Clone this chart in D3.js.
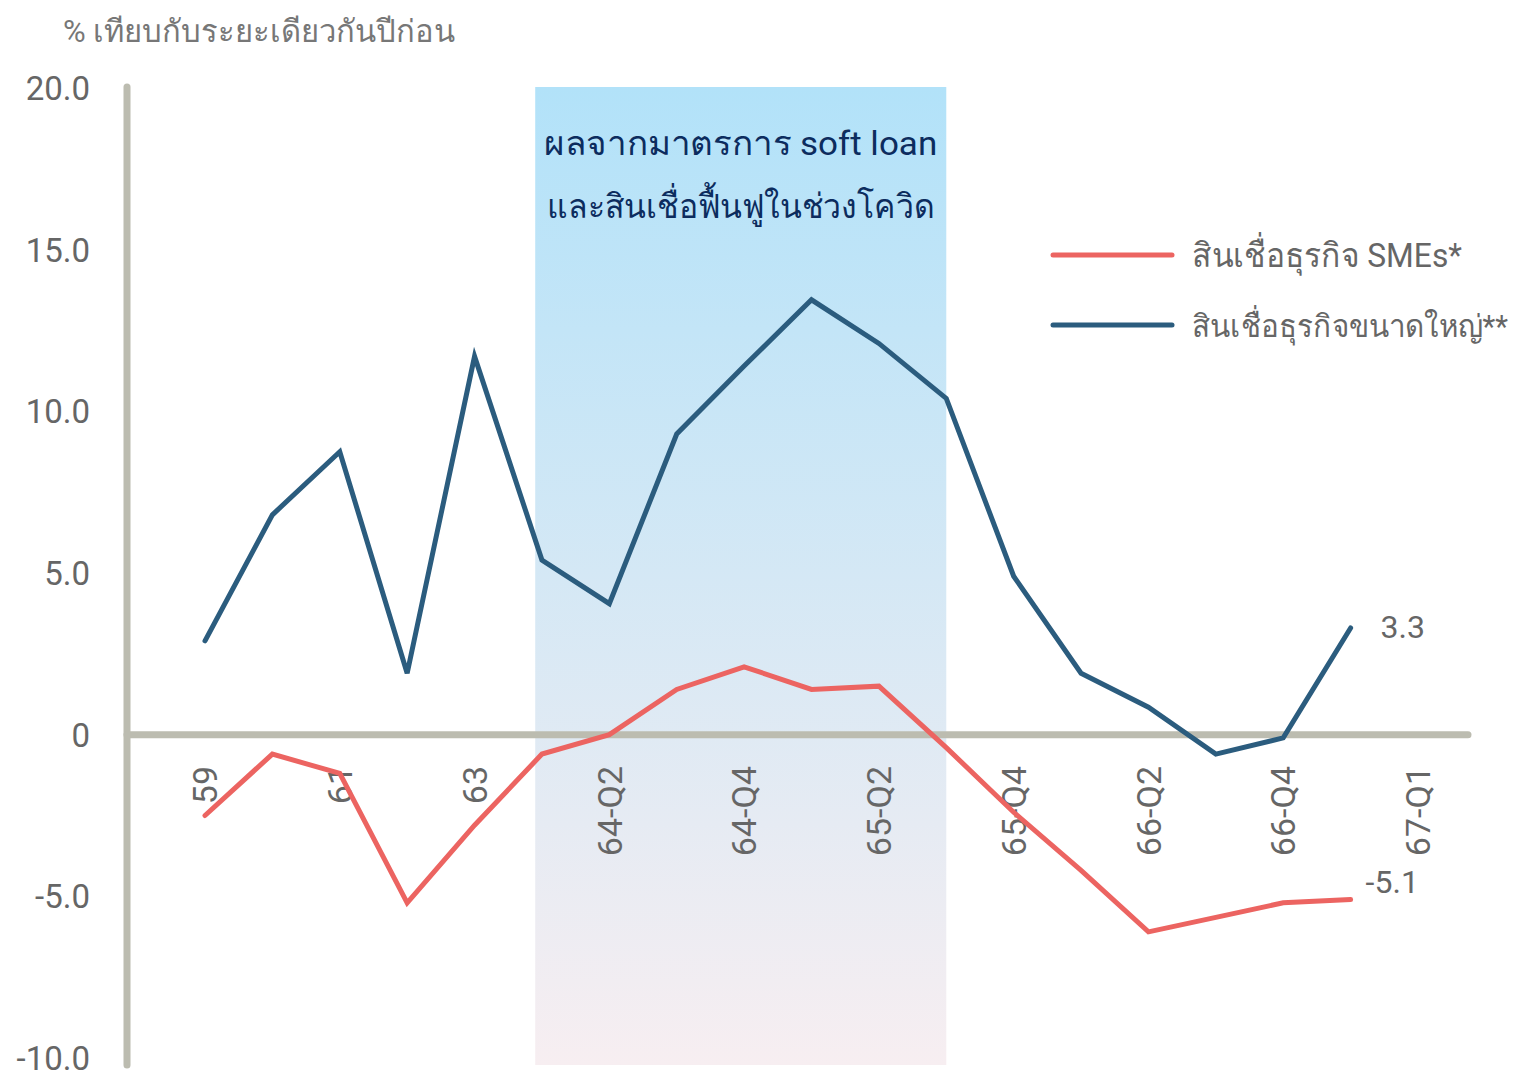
<!DOCTYPE html>
<html><head><meta charset="utf-8">
<script src="https://cdn.jsdelivr.net/npm/d3@7"></script>
<style>
html,body{margin:0;padding:0;background:#fff;}
text{font-family:Roboto,"Noto Sans","Liberation Sans",sans-serif;}
</style></head>
<body><svg id="c" width="1522" height="1079"></svg>
<script>
const slots = d3.range(19);
const tickLabels = ["59","","61","","63","","64-Q2","","64-Q4","","65-Q2","","65-Q4","","66-Q2","","66-Q4","","67-Q1"];
const yTicks = [20,15,10,5,0,-5,-10];
const yTickLabels = ["20.0","15.0","10.0","5.0","0","-5.0","-10.0"];
const smeValues = [-2.5,-0.6,-1.2,-5.2,-2.8,-0.6,0.0,1.4,2.1,1.4,1.5,-0.4,-2.4,-4.2,-6.1,-5.65,-5.2,-5.1];
const largeValues = [2.9,6.8,8.75,1.9,11.7,5.4,4.05,9.3,11.4,13.45,12.1,10.4,4.9,1.9,0.85,-0.6,-0.1,3.3];
const seriesNames = ["สินเชื่อธุรกิจ SMEs*","สินเชื่อธุรกิจขนาดใหญ่**"];
const shadeRange = [4.9, 11.0];
const shadeText = ["ผลจากมาตรการ soft loan","และสินเชื่อฟื้นฟูในช่วงโควิด"];
const yTitle = "% เทียบกับระยะเดียวกันปีก่อน";

const svg = d3.select("#c");
const x = d3.scaleLinear().domain([0,18]).range([205,1418]);
const y = d3.scaleLinear().domain([-10,20]).range([1058,88]);
const red = "#ec6461", blue = "#2b5c7e", axisCol = "#bcbcb0", txt = "#666";

const defs = svg.append("defs");
const g = defs.append("linearGradient").attr("id","sh").attr("x1",0).attr("y1",0).attr("x2",0).attr("y2",1);
g.append("stop").attr("offset","0%").attr("stop-color","#b2e2f9");
g.append("stop").attr("offset","100%").attr("stop-color","#f7eef1");

svg.append("rect").attr("x",x(shadeRange[0])).attr("y",87)
  .attr("width",x(shadeRange[1])-x(shadeRange[0])).attr("height",1065-87).attr("fill","url(#sh)");

const boxW = [393,387];
shadeText.forEach((t,i)=>{
  svg.append("text").attr("x",(x(shadeRange[0])+x(shadeRange[1]))/2).attr("y",155+i*63)
    .attr("text-anchor","middle").attr("font-size",34).attr("fill","#0c2c5e")
    .attr("textLength",boxW[i]).attr("lengthAdjust","spacingAndGlyphs").text(t);
});

// y axis line
svg.append("line").attr("x1",127).attr("x2",127).attr("y1",87).attr("y2",1065)
  .attr("stroke",axisCol).attr("stroke-width",7).attr("stroke-linecap","round");
// zero line
svg.append("line").attr("x1",127).attr("x2",1468).attr("y1",y(0)).attr("y2",y(0))
  .attr("stroke",axisCol).attr("stroke-width",7).attr("stroke-linecap","round");

// y tick labels
svg.selectAll(".yt").data(yTicks).enter().append("text")
  .attr("x",90).attr("y",d=>y(d)).attr("dy","0.36em").attr("text-anchor","end")
  .attr("font-size",33).attr("fill",txt).text((d,i)=>yTickLabels[i]);

// x tick labels
svg.selectAll(".xt").data(slots.filter(i=>tickLabels[i])).enter().append("text")
  .attr("transform",d=>`translate(${x(d)},766) rotate(-90)`)
  .attr("dy","0.36em").attr("text-anchor","end")
  .attr("font-size",34).attr("fill",txt).text(d=>tickLabels[d]);

const line = d3.line().x((d,i)=>x(i)).y(d=>y(d));
svg.append("path").datum(largeValues).attr("d",line).attr("fill","none")
  .attr("stroke",blue).attr("stroke-width",5).attr("stroke-linecap","round").attr("stroke-linejoin","miter");
svg.append("path").datum(smeValues).attr("d",line).attr("fill","none")
  .attr("stroke",red).attr("stroke-width",5).attr("stroke-linecap","round").attr("stroke-linejoin","miter");

// end labels
const last = largeValues.length-1;
svg.append("text").attr("x",x(last)+30).attr("y",y(largeValues[last])+10)
  .attr("font-size",32).attr("fill",txt).text(largeValues[last].toFixed(1));
svg.append("text").attr("x",x(last)+15).attr("y",y(smeValues[last])-7)
  .attr("font-size",32).attr("fill",txt).text(smeValues[last].toFixed(1));

// legend
const legW = [270,316];
const legF = [34,31];
[[red,seriesNames[0]],[blue,seriesNames[1]]].forEach((d,i)=>{
  const yy = 255 + i*70;
  svg.append("line").attr("x1",1053).attr("x2",1172).attr("y1",yy).attr("y2",yy)
    .attr("stroke",d[0]).attr("stroke-width",5).attr("stroke-linecap","round");
  svg.append("text").attr("x",1192).attr("y",yy+12).attr("font-size",legF[i]).attr("fill",txt)
    .attr("textLength",legW[i]).attr("lengthAdjust","spacingAndGlyphs").text(d[1]);
});

svg.append("text").attr("x",63).attr("y",42).attr("font-size",31).attr("fill","#777")
  .attr("textLength",392).attr("lengthAdjust","spacingAndGlyphs").text(yTitle);
</script></body></html>
